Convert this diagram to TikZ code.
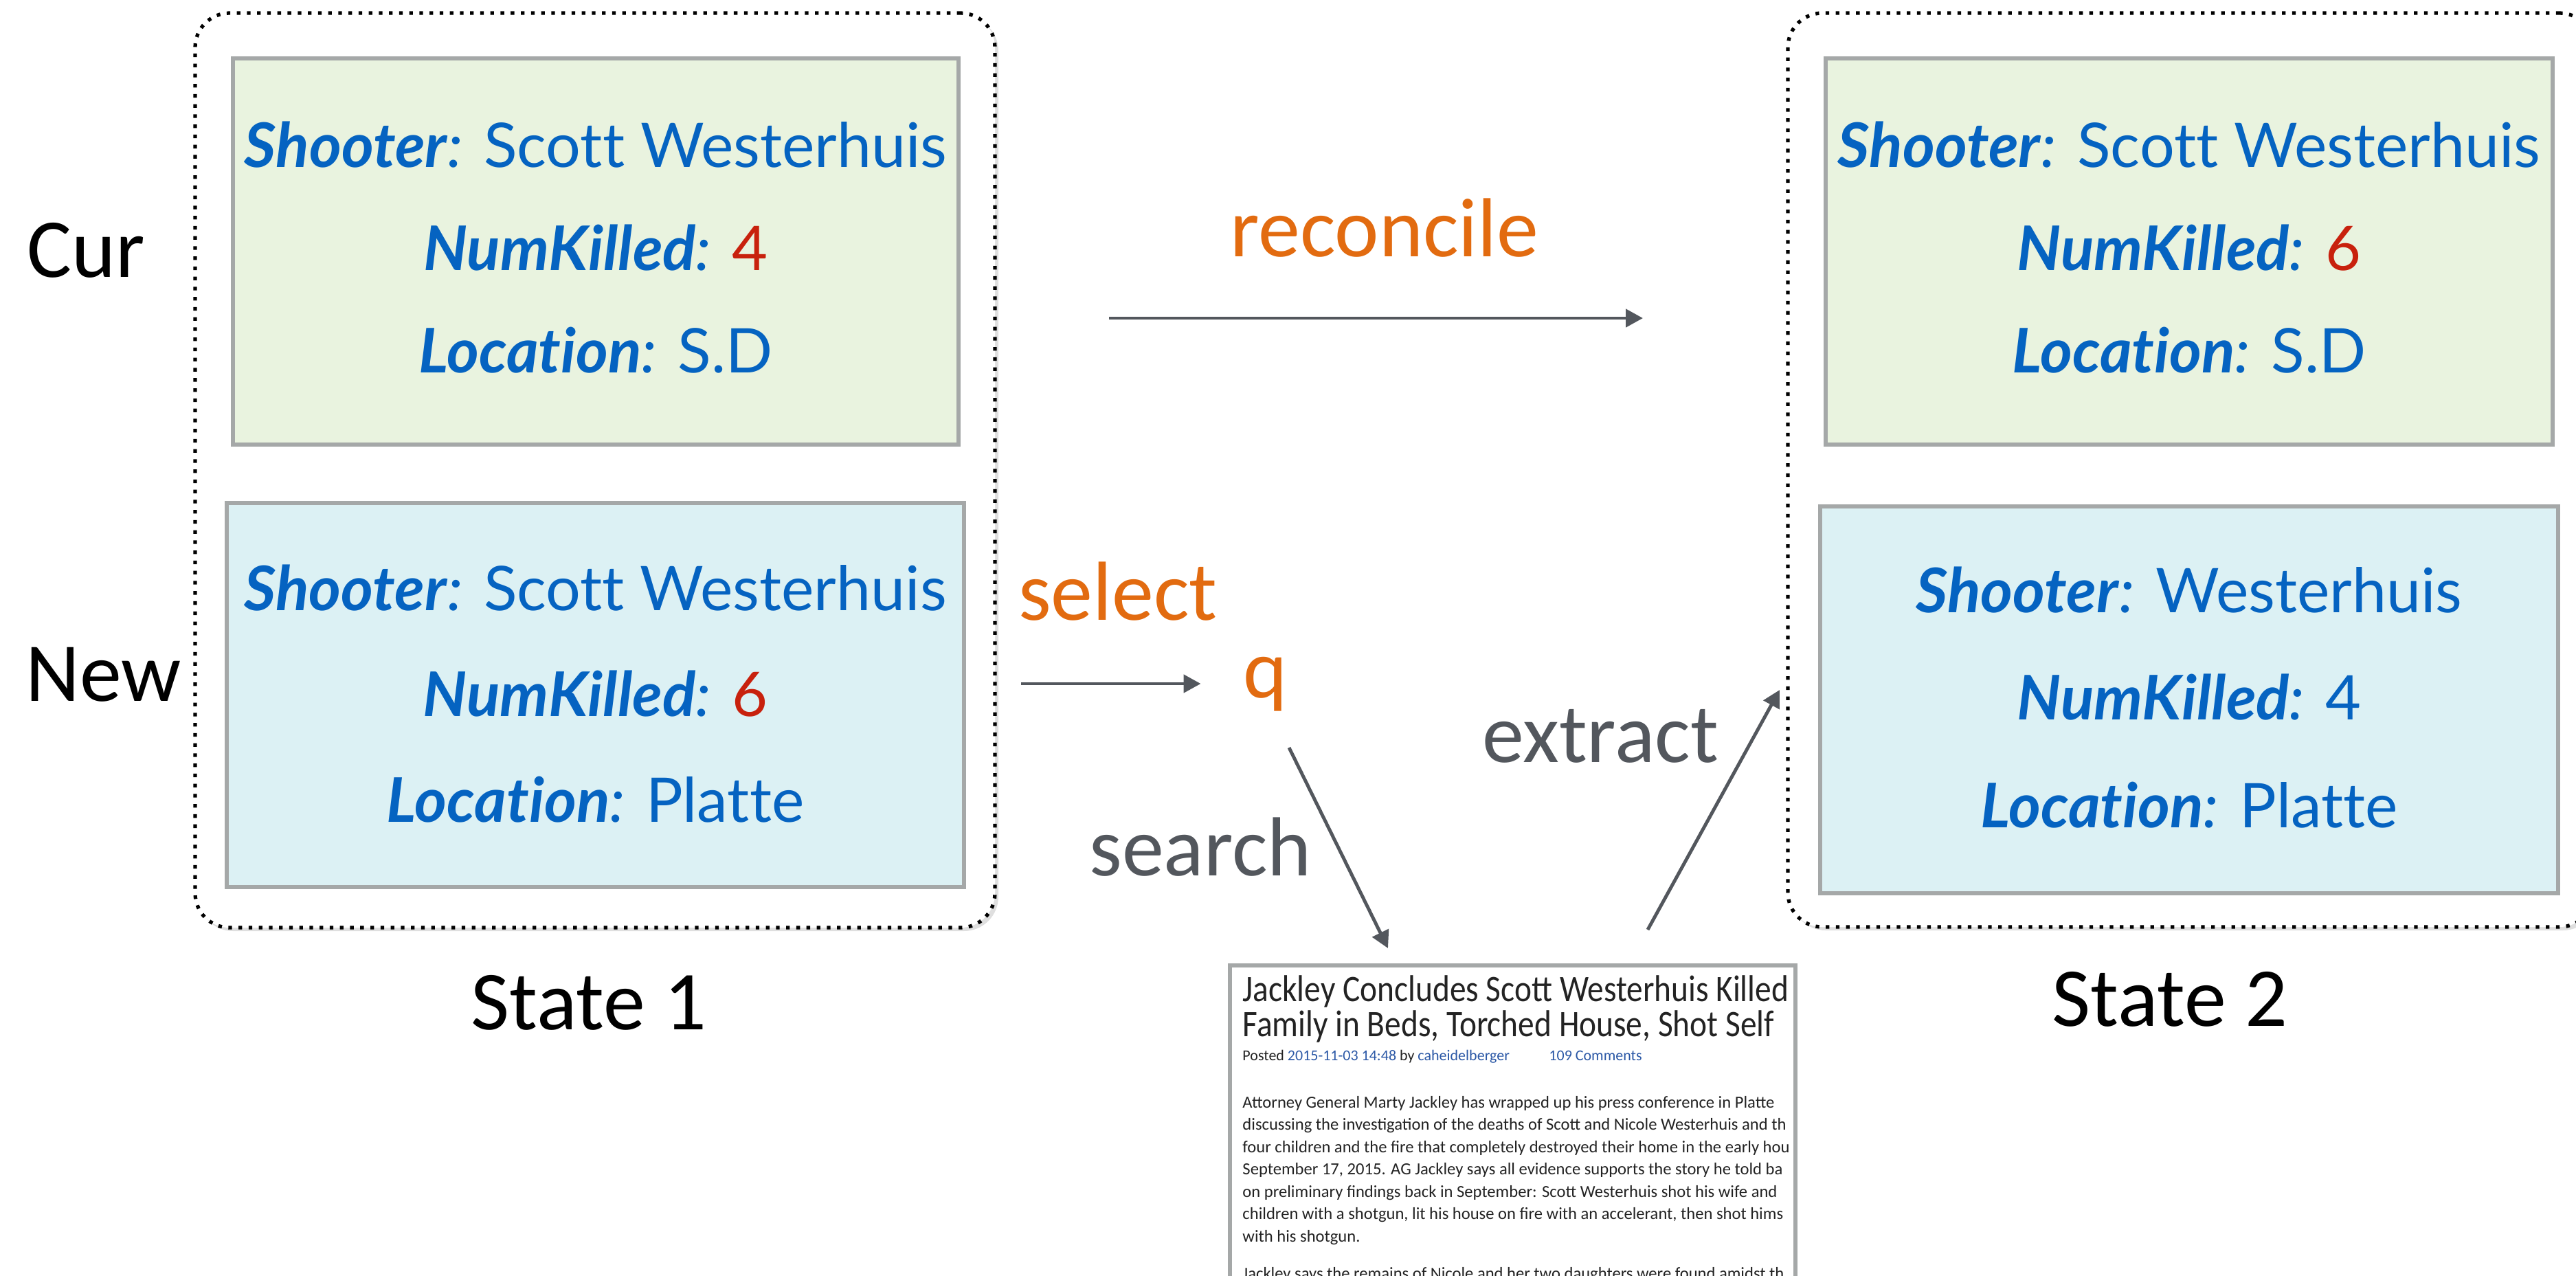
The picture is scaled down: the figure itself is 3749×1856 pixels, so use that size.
\documentclass[tikz,border=0pt]{standalone}
\usepackage{fontspec}
\usetikzlibrary{arrows.meta,shadows}
\newfontfamily\labelfont{Carlito}
\newfontfamily\fieldfont[Ligatures=NoCommon]{Lato}
\newfontfamily\artfont{Carlito}
\newfontfamily\arttitlefont[FakeStretch=0.87]{Carlito}
\definecolor{fieldblue}{RGB}{5,99,193}
\definecolor{numred}{RGB}{200,33,13}
\definecolor{flowgray}{RGB}{83,87,93}
\definecolor{actorange}{RGB}{226,107,16}
\definecolor{curgreen}{RGB}{233,243,223}
\definecolor{newblue}{RGB}{220,241,244}
\definecolor{boxgray}{RGB}{165,168,168}
\definecolor{linkblue}{RGB}{43,88,166}
\definecolor{arttext}{RGB}{35,35,35}
\newcommand\fieldkey[1]{\textbf{\textit{#1}}\textit{:}}
\newcommand\numval[1]{\textcolor{numred}{#1}}

\begin{document}
\begin{tikzpicture}[x=0.1mm,y=-0.1mm,line width=1.4pt,>={Triangle[length=2.5mm,width=2.6mm]},
  statebox/.style={draw=black,line width=1.5pt,dash pattern=on 1.5pt off 2.7pt,
    rounded corners=5mm,fill=white,inner sep=0,
    drop shadow={shadow xshift=0.5mm,shadow yshift=-0.5mm,opacity=0.25}},
  curbox/.style={draw=boxgray,line width=1.6pt,fill=curgreen,inner sep=0},
  newbox/.style={draw=boxgray,line width=1.6pt,fill=newblue,inner sep=0},
  field/.style={anchor=base,inner sep=0,text=fieldblue,
    font=\fieldfont\fontsize{25.5}{30}\selectfont},
  lbl/.style={anchor=base,inner sep=0,font=\labelfont\fontsize{34.7}{40}\selectfont},
  act/.style={lbl,text=actorange},
  op/.style={lbl,text=flowgray},
  flow/.style={draw=flowgray,->},
  artline/.style={anchor=base west,inner sep=0,text=arttext,
    font=\artfont\fontsize{7}{8}\selectfont}]
  \useasboundingbox (0,0) rectangle (3749,1856);

  % the two states
  \node[statebox,minimum width=116.4mm,minimum height=133.1mm] (state1) at (866,684.5) {};
  \node[statebox,minimum width=117.3mm,minimum height=133mm] (state2) at (3188.5,684) {};
  \node[curbox,minimum width=105.6mm,minimum height=56.2mm] (cur1) at (867,366) {};
  \node[newbox,minimum width=107.3mm,minimum height=55.9mm] (new1) at (866.5,1011.5) {};
  \node[curbox,minimum width=105.8mm,minimum height=56.2mm] (cur2) at (3186,366) {};
  \node[newbox,minimum width=107.4mm,minimum height=56.3mm] (new2) at (3186,1018.5) {};

  \node[field] (cur1a) at (867,243) {\fieldkey{Shooter} Scott Westerhuis};
  \node[field] (cur1b) at (867,393) {\fieldkey{NumKilled} \numval{4}};
  \node[field] (cur1c) at (867,542) {\fieldkey{Location} S.D};
  \node[field] (new1a) at (866.5,888) {\fieldkey{Shooter} Scott Westerhuis};
  \node[field] (new1b) at (866.5,1042) {\fieldkey{NumKilled} \numval{6}};
  \node[field] (new1c) at (866.5,1196) {\fieldkey{Location} Platte};
  \node[field] (cur2a) at (3186,243) {\fieldkey{Shooter} Scott Westerhuis};
  \node[field] (cur2b) at (3186,393) {\fieldkey{NumKilled} \numval{6}};
  \node[field] (cur2c) at (3186,542) {\fieldkey{Location} S.D};
  \node[field] (new2a) at (3186,891) {\fieldkey{Shooter} Westerhuis};
  \node[field] (new2b) at (3186,1047) {\fieldkey{NumKilled} 4};
  \node[field] (new2c) at (3186,1204) {\fieldkey{Location} Platte};

  \node[lbl,anchor=base west] (cur) at (37,403) {Cur};
  \node[lbl,anchor=base west] (new) at (35,1020) {New};
  \node[lbl] (state1lbl) at (857,1498) {State 1};
  \node[lbl] (state2lbl) at (3158,1493) {State 2};

  % actions
  \node[act] (reconcile) at (2015,373) {reconcile};
  \node[act] (select) at (1627,902) {select};
  \node[act] (q) at (1842,1015) {q};
  \node[op] (search) at (1747,1274) {search};
  \node[op] (extract) at (2329,1109) {extract};

  \coordinate (recA) at (1614,463);
  \coordinate (recB) at (2391,463);
  \coordinate (selA) at (1486,995);
  \coordinate (srchA) at (1876,1088);
  \coordinate (srchB) at (2020,1380);
  \coordinate (extA) at (2398,1353);
  \coordinate (extB) at (2590,1004);
  \draw[flow] (recA) -- (recB);
  \draw[flow,shorten >=6mm] (selA) -- (selA -| q.west);
  \draw[flow] (srchA) -- (srchB);
  \draw[flow] (extA) -- (extB);

  % the retrieved article
  \node[draw=boxgray,line width=1.6pt,fill=white,minimum width=82.3mm,minimum height=50.1mm]
    (article) at (2201.5,1655.5) {};
  \begin{scope}
    \clip (1796,1410) rectangle (2608,1856);
    \node[artline,font=\arttitlefont\fontsize{15.5}{20}\selectfont] (title1) at (1806,1457)
      {Jackley Concludes Scott Westerhuis Killed};
    \node[artline,font=\arttitlefont\fontsize{15.5}{20}\selectfont] (title2) at (1806,1508)
      {Family in Beds, Torched House, Shot Self};
    \node[artline,font=\artfont\fontsize{6.26}{8}\selectfont] (posted) at (1806,1543)
      {Posted \textcolor{linkblue}{2015-11-03 14:48} by \textcolor{linkblue}{caheidelberger}};
    \node[artline,text=linkblue,font=\artfont\fontsize{6.26}{8}\selectfont] (comments)
      at (2252,1543) {109 Comments};
    \foreach \txt [count=\i] in {
      {Attorney General Marty Jackley has wrapped up his press conference in Platte},
      {discussing the investigation of the deaths of Scott and Nicole Westerhuis and th},
      {four children and the fire that completely destroyed their home in the early hou},
      {September 17, 2015. AG Jackley says all evidence supports the story he told ba},
      {on preliminary findings back in September: Scott Westerhuis shot his wife and},
      {children with a shotgun, lit his house on fire with an accelerant, then shot hims},
      {with his shotgun.}}
      \node[artline] (body\i) at (1806,{1612+32.5*(\i-1)}) {\txt};
    \node[artline] (body8) at (1806,1861)
      {Jackley says the remains of Nicole and her two daughters were found amidst th};
  \end{scope}
\end{tikzpicture}
\end{document}
